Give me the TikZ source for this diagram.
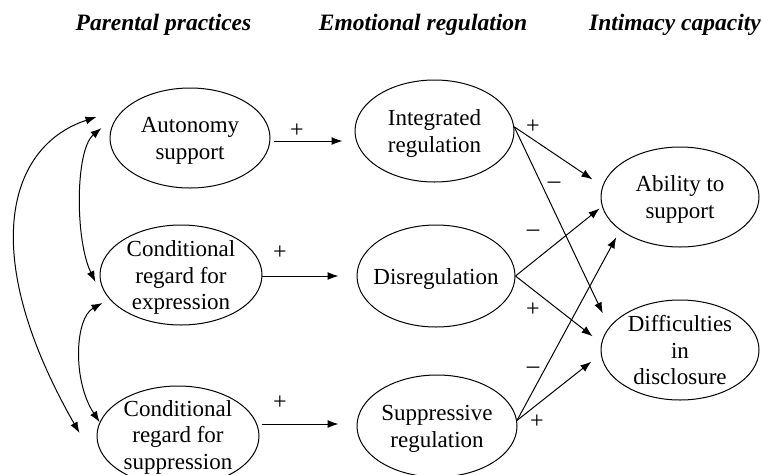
\documentclass[tikz,border=0pt]{standalone}
\usepackage{fontspec}
\setmainfont{Liberation Serif}
\usetikzlibrary{arrows.meta,shapes.geometric}
\newcommand\ntext[2][0pt]{\raisebox{\dimexpr-0.35em-10pt+#1\relax}{\makebox[0pt]{\smash{\begin{tabular}{@{}c@{}}#2\end{tabular}}}}}
\begin{document}
\begin{tikzpicture}[x=1pt,y=-1pt,
  el/.style={draw, ellipse, line width=1pt, inner sep=0pt, font=\fontsize{23}{26.5}\selectfont},
  arr/.style={line width=1pt, -{Latex[length=11pt,width=8pt]}},
  biarr/.style={line width=1pt, {Latex[length=11pt,width=8pt]}-{Latex[length=11pt,width=8pt]}},
  sign/.style={font=\fontsize{24}{24}\selectfont, inner sep=0pt},
  msign/.style={font=\fontsize{25}{25}\selectfont, inner sep=0pt},
  hdr/.style={font=\fontsize{23.5}{26}\selectfont\bfseries\itshape, anchor=base, inner sep=0pt}]
\useasboundingbox (0,0) rectangle (762,474);
\clip (0,0) rectangle (762,474);
% headers
\node[hdr] (h1) at (163.5,30) {Parental practices};
\node[hdr] (h2) at (423,30) {Emotional regulation};
\node[hdr] (h3) at (675,30) {Intimacy capacity};
% nodes
\node[el, minimum width=160pt, minimum height=100pt] (aut) at (190,138) {\ntext{Autonomy\\support}};
\node[el, minimum width=162pt, minimum height=100pt] (cre) at (181,275) {\ntext{Conditional\\regard for\\expression}};
\node[el, minimum width=162pt, minimum height=100pt] (crs) at (178,436) {\ntext[3pt]{Conditional\\regard for\\suppression}};
\node[el, minimum width=159pt, minimum height=102pt] (int) at (434.5,131) {\ntext{Integrated\\regulation}};
\node[el, minimum width=158pt, minimum height=102pt] (dis) at (436,276) {\ntext{Disregulation}};
\node[el, minimum width=160pt, minimum height=102pt] (sup) at (437,426) {\ntext{Suppressive\\regulation}};
\node[el, minimum width=158pt, minimum height=100pt] (abi) at (680,197) {\ntext{Ability to\\support}};
\node[el, minimum width=158pt, minimum height=100pt] (dif) at (680,350) {\ntext{Difficulties\\in\\disclosure}};
% horizontal arrows
\draw[arr] ([shift={(3,3)}]aut.east) -- ([shift={(-12,10)}]int.west);
\draw[arr] ([shift={(-1,1)}]cre.east) -- ([shift={(-18,0)}]dis.west);
\draw[arr] ([shift={(2,-12)}]crs.east) -- ([shift={(-18,-2)}]sup.west);
% diagonal arrows
\draw[arr, shorten >=12pt] (int.3) -- (abi.172);
\draw[arr, shorten >=15pt] (int.3) -- (dif.162);
\draw[arr, shorten >=3pt] (dis.east) -- (abi.187);
\draw[arr, shorten >=11pt] (dis.east) -- (dif.175);
\draw[arr, shorten >=8pt] (sup.4) -- (abi.209);
\draw[arr, shorten >=12pt] (sup.4) -- (dif.183);
% curved correlations
\draw[biarr] ([shift={(-13,-21)}]aut.west) .. controls (10,145) and (-25,250) .. ([shift={(-17,-3)}]crs.west);
\draw[biarr] ([shift={(-8,-10)}]aut.west) .. controls (75,150) and (75,240) .. ([shift={(-4,7)}]cre.west);
\draw[biarr] ([shift={(3,28)}]cre.west) .. controls (75,318) and (72,380) .. (crs.170);
% signs
\node[sign] (s1) at (297,131) {+};
\node[sign] (s2) at (280,253) {+};
\node[sign] (s3) at (280,403) {+};
\node[sign] (s4) at (533,127) {+};
\node[msign] (s5) at (554,185) {–};
\node[msign] (s6) at (533,233) {–};
\node[sign] (s7) at (533,310) {+};
\node[msign] (s8) at (533,370) {–};
\node[sign] (s9) at (537,422) {+};
\end{tikzpicture}
\end{document}
